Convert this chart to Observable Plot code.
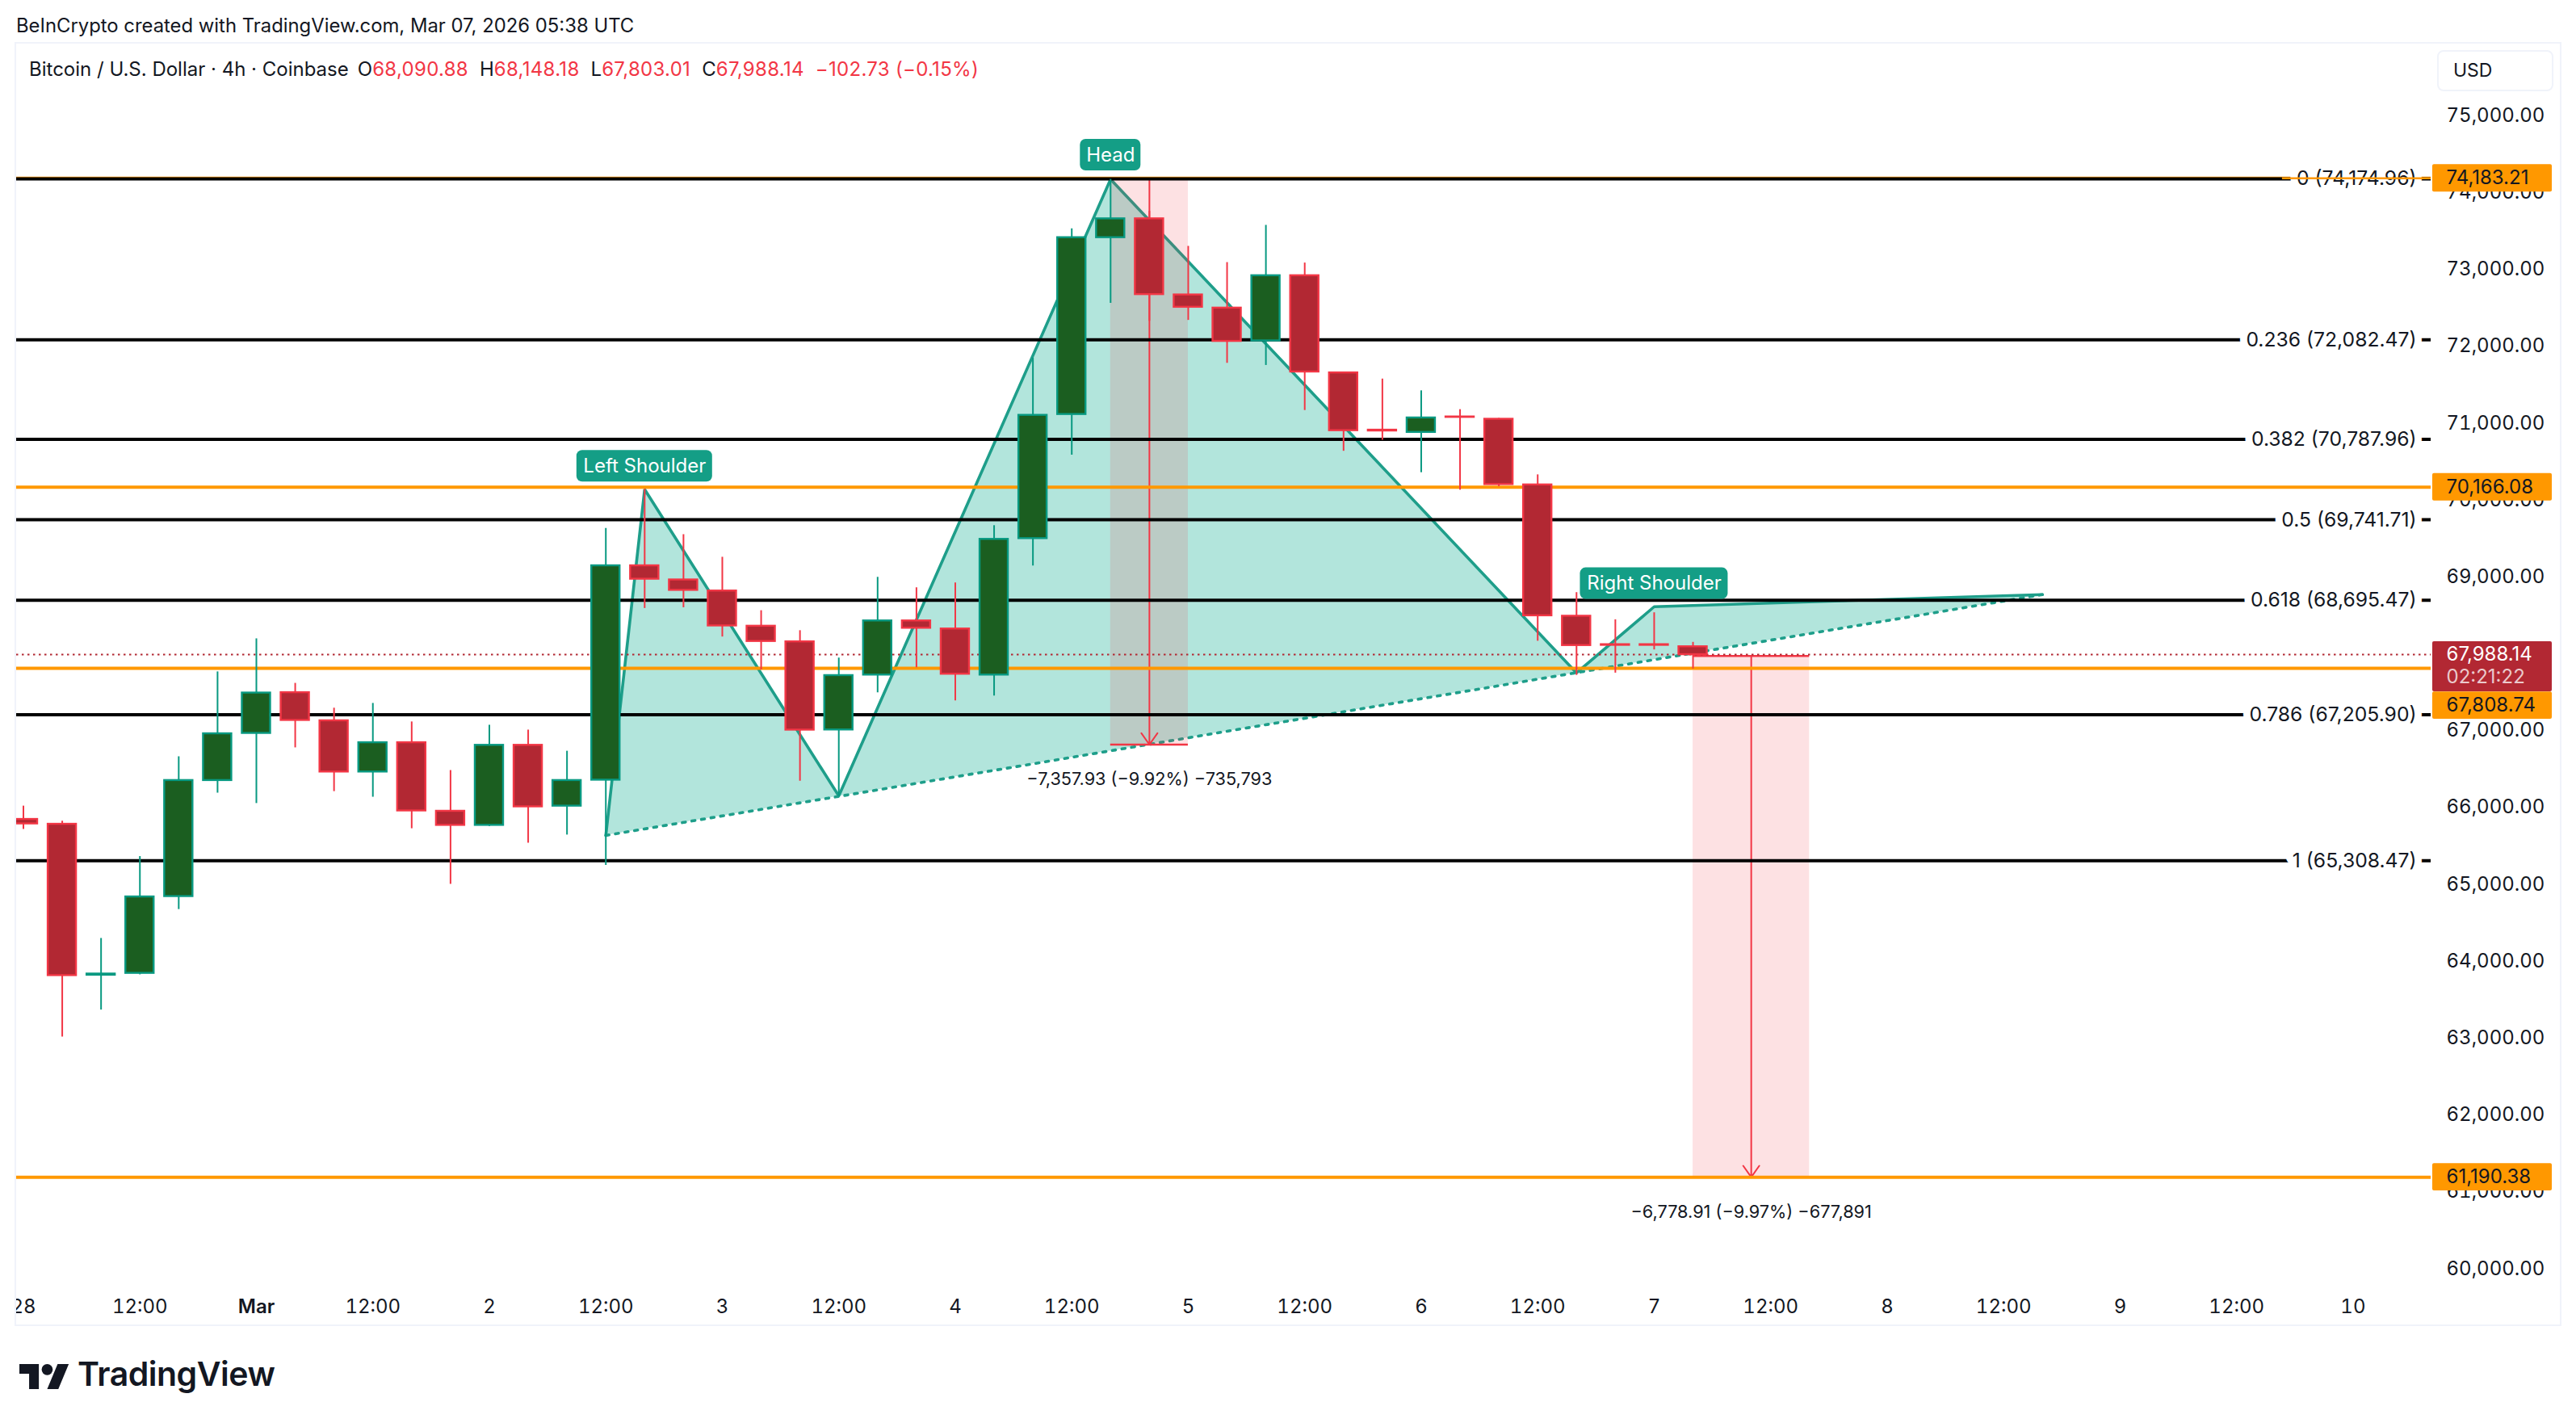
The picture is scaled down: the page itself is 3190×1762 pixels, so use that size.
<!DOCTYPE html>
<html><head><meta charset="utf-8">
<script src="https://cdn.jsdelivr.net/npm/d3@7"></script>
<script src="https://cdn.jsdelivr.net/npm/@observablehq/plot@0.6"></script>
<style>
html,body{margin:0;padding:0;background:#fff;width:3190px;height:1762px;overflow:hidden;font-family:Inter,sans-serif;color:#131722}
#head{height:54px;box-sizing:border-box;padding:18px 0 0 20px;font-size:23.85px;line-height:28px;white-space:nowrap}
#panel{position:relative;margin-left:20px;width:3150px;height:1586px;box-shadow:0 0 0 2px #f0f3fa}
#panel svg{display:block}
#legend{position:absolute;left:16px;top:18px;font-size:24px;line-height:28px;white-space:nowrap}
#legend b{font-weight:400;margin-left:14px}
#legend b:first-of-type{margin-left:11px}
#legend i{font-style:normal;color:#f23645;letter-spacing:.3px}
#usd{position:absolute;left:2998px;top:8px;width:144px;height:51px;box-sizing:border-box;border:2px solid #f0f3fa;border-radius:8px;font-size:23px;line-height:47px;padding-left:18px;background:#fff}
#foot{display:flex;align-items:center;height:122px;padding-left:24px;gap:10px;font-size:41px;font-weight:600;letter-spacing:-.5px;color:#131722}
</style></head><body>
<div id="head">BeInCrypto created with TradingView.com, Mar 07, 2026 05:38 UTC</div>
<div id="panel"><div id="legend">Bitcoin / U.S. Dollar · 4h · Coinbase<b>O<i>68,090.88</i></b><b>H<i>68,148.18</i></b><b>L<i>67,803.01</i></b><b>C<i>67,988.14</i></b><b><i>−102.73 (−0.15%)</i></b></div><div id="usd">USD</div></div>
<div id="foot"><svg width="62" height="38" viewBox="0 0 36 22" fill="#131722"><path d="M14 22H7V11H0V4h14v18zM28 22h-8l7.5-18h8L28 22z"/><circle cx="20" cy="8" r="4"/></svg><span>TradingView</span></div>
<script>
const candleStart = new Date(Date.UTC(2026, 1, 28));
const opens  = [65845,65782,63819,63843,64842,66351,66964,67494,67128,66462,66843,65951,65768,66809,66018,66356,69144,68960,68816,68358,68155,67009,67723,68427,68322,67723,69498,71112,73412,73657,72667,72496,72069,72917,71653,70908,70879,71080,71050,70196,68488,68118,68118,68090.88];
const highs  = [66018,65821,64297,65362,66660,67764,68194,67615,67292,67354,67113,66481,67070,67007,66732,69631,70140,69549,69255,68560,68300,67944,68994,68858,68921,69666,71847,73526,74170,73754,73299,73088,73572,73082,71653,71573,71420,71175,71061,70327,68795,68442,68533,68148.18];
const lows   = [65715,63014,63366,63824,64673,66187,66052,66776,66207,66134,65724,65001,65753,65536,65642,65247,68589,68599,68218,67789,66342,66141,67492,67818,67387,67450,69141,70583,72558,72325,72336,71778,71750,71164,70634,70777,70355,70128,70173,68163,67719,67748,68050,67803.01];
const closes = [65787,63814,63834,64837,66351,66959,67489,67133,66462,66843,65956,65768,66809,66009,66351,69144,68970,68825,68362,68160,67007,67716,68427,68332,67734,69488,71101,73412,73657,72672,72507,72063,72917,71665,70902,70898,71067,71075,70201,68494,68107,68110,68110,67988.14];

const fibRatios = ["0","0.236","0.382","0.5","0.618","0.786","1"];
const fibPrices = [74174.96,72082.47,70787.96,69741.71,68695.47,67205.90,65308.47];
const orangeLevels = [74183.21,70166.08,67808.74,61190.38];
const orangeTagPrices = [74183.21,70166.08,67326,61190.38];
const lastPrice = 67988.14;
const countdown = "02:21:22";
const priceTicks = [75000,74000,73000,72000,71000,70000,69000,67000,66000,65000,64000,63000,62000,61000,60000];

const patternCandles = [15,16,21,28,40,42,52];
const patternUpper = [65636,70137,66150,74170,67750,68611,68769];
const patternNeck  = [65636,65721,66144,66737,67753,67922,68769];

const measureFrom = [28,43];
const measureTo   = [30,46];
const measureMid  = [29,44.5];
const measureTop  = [74174.96,67969.29];
const measureBottom = [66817.03,61190.38];
const measureText = ["−7,357.93 (−9.92%) −735,793","−6,778.91 (−9.97%) −677,891"];

const shoulderNames = ["Left Shoulder","Head","Right Shoulder"];
const shoulderCandles = [16,28,42];
const shoulderPrices = [70439,74485,68912];

const dayLabels = ["28","Mar","2","3","4","5","6","7","8","9","10"];

/* ---------- derived ---------- */
const at = i => d3.utcMinute.offset(candleStart, i * 240);
const candles = opens.map((o,i) => ({t:at(i),o,h:highs[i],l:lows[i],c:closes[i],up:closes[i]>=o}));
const pattern = patternCandles.map((i,k) => ({t:at(i),u:patternUpper[k],n:patternNeck[k]}));
const measures = measureFrom.map((f,k) => ({a:at(f),b:at(measureTo[k]),m:at(measureMid[k]),top:measureTop[k],bot:measureBottom[k],txt:measureText[k]}));
const xMin = new Date(Date.UTC(2026,1,27,23,17,36));
const xMax = new Date(Date.UTC(2026,2,10,8,2,0));
const zeroLabelStart = new Date(Date.UTC(2026,2,9,16,43,0));
const dayTicks = dayLabels.map((_,i) => d3.utcDay.offset(candleStart,i));
const noonTicks = d3.range(10).map(i => d3.utcHour.offset(candleStart,i*24+12));
const dayLabel = new Map(dayTicks.map((d,i)=>[+d,dayLabels[i]]));
const money = d3.format(",.2f");

const GREEN="#089981", RED="#f23645", GBODY="#1b5e20", RBODY="#b22833", ORANGE="#ff9800", TEAL="#1e9e8a", LABEL="#149e86", INK="#131722";

const tagX = {x1:()=>xMax,x2:()=>xMax,insetLeft:2,insetRight:-150,rx:2};

const plot = Plot.plot({
  width:3150,height:1586,
  marginLeft:0,marginRight:160,marginTop:0,marginBottom:50,
  style:{fontFamily:"Inter, sans-serif",fontSize:"24px",background:"transparent",color:INK},
  x:{type:"utc",domain:[xMin,xMax],axis:null},
  y:{domain:[59795,75930],axis:null},
  color:{type:"identity"},
  marks:[
    Plot.areaY(pattern,{x:"t",y1:"n",y2:"u",fill:"#b2e5dc",clip:true}),
    Plot.line(pattern,{x:"t",y:"u",stroke:TEAL,strokeWidth:3.6,strokeLinejoin:"miter",clip:true}),
    Plot.line([pattern[0],pattern[pattern.length-1]],{x:"t",y:"n",stroke:TEAL,strokeWidth:3.6,strokeDasharray:"4,8",clip:true}),
    Plot.rect(measures,{x1:"a",x2:"b",y1:"top",y2:"bot",fill:RED,fillOpacity:.15,clip:true}),
    Plot.ruleY(measures,{y:"bot",x1:"a",x2:"b",stroke:RED,strokeWidth:2.5,clip:true}),
    Plot.ruleY(measures,{y:"top",x1:"a",x2:"b",stroke:RED,strokeWidth:2.5,clip:true}),
    Plot.arrow(measures,{x1:"m",x2:"m",y1:"top",y2:"bot",bend:0,stroke:RED,strokeWidth:2,headLength:13,headAngle:70}),
    Plot.ruleY(orangeLevels,{stroke:ORANGE,strokeWidth:4,clip:true}),
    Plot.ruleY(fibPrices,{stroke:"#000",strokeWidth:4,clip:true}),
    Plot.text(fibPrices,{x:()=>xMax,y:d=>d,dx:-18,textAnchor:"end",fill:INK,stroke:"#fff",strokeWidth:18,fontSize:24.7,
      text:(d,i)=>`${fibRatios[i]} (${money(d)})`}),
    Plot.ruleY([orangeLevels[0]],{x1:()=>zeroLabelStart,x2:()=>xMax,stroke:ORANGE,strokeWidth:2.5}),
    Plot.ruleY([lastPrice],{stroke:RBODY,strokeWidth:2,strokeDasharray:"2.5,4.5",clip:true}),
    Plot.text(measures,{x:"m",y:"bot",dy:43,text:"txt",fill:INK,fontSize:21.7}),
    Plot.ruleX(candles,{x:"t",y1:"l",y2:"h",stroke:d=>d.up?GREEN:RED,strokeWidth:2,clip:true}),
    Plot.rect(candles,{x1:"t",x2:"t",y1:"o",y2:"c",insetLeft:-17.5,insetRight:-17.5,
      fill:d=>d.up?GBODY:RBODY,stroke:d=>d.up?GREEN:RED,strokeWidth:2.4,clip:true}),
    ...shoulderNames.flatMap((name,i)=>{
      const half=[84,37.5,91.5][i];
      const d=[{t:at(shoulderCandles[i]),p:shoulderPrices[i],name}];
      return [
        Plot.rect(d,{x1:"t",x2:"t",y1:"p",y2:"p",insetLeft:-half,insetRight:-half,insetTop:-19.5,insetBottom:-19.5,fill:LABEL,rx:7}),
        Plot.text(d,{x:"t",y:"p",text:"name",fill:"#fff"})
      ];
    }),
    Plot.axisY(priceTicks,{anchor:"right",tickSize:0,tickPadding:19,tickFormat:money,label:null,fill:INK}),
    Plot.axisX(noonTicks,{anchor:"bottom",tickSize:0,tickPadding:18,tickFormat:()=>"12:00",label:null,fill:INK}),
    Plot.axisX(dayTicks.filter(d=>dayLabel.get(+d)!=="Mar"),{anchor:"bottom",tickSize:0,tickPadding:18,tickFormat:d=>dayLabel.get(+d),label:null,fill:INK}),
    Plot.axisX(dayTicks.filter(d=>dayLabel.get(+d)==="Mar"),{anchor:"bottom",tickSize:0,tickPadding:18,tickFormat:d=>dayLabel.get(+d),label:null,fill:INK,fontWeight:600}),
    Plot.rect(orangeTagPrices,{...tagX,y1:d=>d+178,y2:d=>d-178,fill:ORANGE}),
    Plot.text(orangeTagPrices,{x:()=>xMax,y:d=>d,dx:19,textAnchor:"start",fill:INK,text:(d,i)=>money(orangeLevels[i])}),
    Plot.rect([lastPrice],{...tagX,y1:d=>d+168,y2:d=>d-483,fill:RBODY}),
    Plot.text([lastPrice],{x:()=>xMax,y:d=>d,dx:19,textAnchor:"start",fill:"#fff",text:d=>money(d)}),
    Plot.text([lastPrice],{x:()=>xMax,y:d=>d,dx:19,dy:28,textAnchor:"start",fill:"#fff",fillOpacity:.75,text:()=>countdown})
  ]
});
document.getElementById("panel").prepend(plot);
</script>
</body></html>
